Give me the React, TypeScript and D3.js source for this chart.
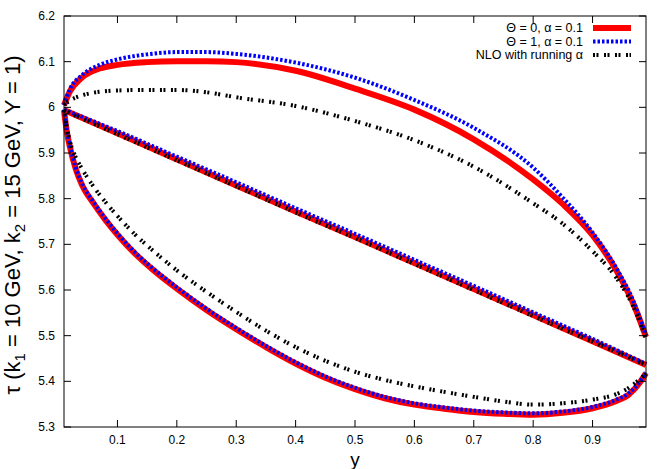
import * as d3 from "d3";

const WIDTH = 670;
const HEIGHT = 469;
const PLOT = { left: 64, right: 646, top: 16, bottom: 427 };

// x ticks and y ticks as printed on the axes
const xTicks = [0.1, 0.2, 0.3, 0.4, 0.5, 0.6, 0.7, 0.8, 0.9];
const yTicks = [5.3, 5.4, 5.5, 5.6, 5.7, 5.8, 5.9, 6.0, 6.1, 6.2];

// upper arcs (shared x grid)
const upperX = [0.01, 0.02, 0.04, 0.07, 0.1, 0.15, 0.2, 0.25, 0.3, 0.4, 0.5, 0.6, 0.7, 0.8, 0.85, 0.9, 0.94, 0.97, 0.99];
const redUpper = [6.005, 6.035, 6.065, 6.085, 6.093, 6.099, 6.101, 6.101, 6.099, 6.08, 6.041, 5.995, 5.93, 5.842, 5.788, 5.72, 5.643, 5.566, 5.497];
const blueUpper = [6.005, 6.04, 6.07, 6.093, 6.105, 6.116, 6.121, 6.121, 6.117, 6.098, 6.065, 6.016, 5.955, 5.868, 5.802, 5.726, 5.648, 5.572, 5.5];
const blackUpper = [6.005, 6.015, 6.026, 6.034, 6.037, 6.038, 6.038, 6.033, 6.022, 6.003, 5.97, 5.928, 5.87, 5.79, 5.745, 5.685, 5.627, 5.56, 5.495];

// middle (nearly straight) branch
const midX = [0.01, 0.1, 0.2, 0.3, 0.4, 0.5, 0.6, 0.7, 0.8, 0.9, 0.99];
const redMid = [5.994, 5.943, 5.886, 5.829, 5.772, 5.716, 5.659, 5.602, 5.545, 5.488, 5.436];
const blueMid = [5.995, 5.948, 5.892, 5.836, 5.779, 5.723, 5.666, 5.609, 5.551, 5.493, 5.438];
const blackMid = [5.993, 5.941, 5.884, 5.827, 5.77, 5.714, 5.657, 5.6, 5.543, 5.487, 5.436];

// lower arcs
const lowerX = [0.01, 0.015, 0.02, 0.03, 0.04, 0.06, 0.08, 0.1, 0.13, 0.16, 0.2, 0.25, 0.3, 0.35, 0.4, 0.45, 0.5, 0.55, 0.6, 0.65, 0.7, 0.75, 0.8, 0.85, 0.9, 0.94, 0.96, 0.98, 0.99];
const redLower = [5.994, 5.945, 5.913, 5.864, 5.831, 5.789, 5.753, 5.721, 5.679, 5.644, 5.603, 5.556, 5.514, 5.475, 5.439, 5.408, 5.383, 5.363, 5.349, 5.34, 5.333, 5.329, 5.327, 5.331, 5.341, 5.357, 5.37, 5.398, 5.418];
const blueLower = [5.995, 5.948, 5.916, 5.867, 5.834, 5.792, 5.756, 5.724, 5.682, 5.647, 5.606, 5.559, 5.517, 5.478, 5.442, 5.411, 5.386, 5.366, 5.352, 5.343, 5.336, 5.332, 5.33, 5.334, 5.344, 5.36, 5.373, 5.4, 5.419];
const blackLower = [5.994, 5.955, 5.925, 5.89, 5.866, 5.826, 5.792, 5.762, 5.721, 5.686, 5.643, 5.596, 5.552, 5.511, 5.475, 5.445, 5.421, 5.403, 5.389, 5.377, 5.366, 5.356, 5.349, 5.352, 5.36, 5.372, 5.385, 5.405, 5.416];

const series = [
  { label: "\u0398 = 0, \u03b1 = 0.1", color: "#ff0000", width: 6, dash: undefined, curves: [redUpper, redMid, redLower] },
  { label: "\u0398 = 1, \u03b1 = 0.1", color: "#0000ff", width: 4, dash: "2.5,2", curves: [blueUpper, blueMid, blueLower] },
  { label: "NLO with running \u03b1", color: "#000000", width: 4, dash: "2,1.5,2,5.5", curves: [blackUpper, blackMid, blackLower] },
];
const xGrids = [upperX, midX, lowerX];

const FONT = "'Liberation Sans', Arial, Helvetica, sans-serif";

export default function App() {
  const x = d3.scaleLinear().domain([0.01, 0.99]).range([PLOT.left, PLOT.right]);
  const y = d3.scaleLinear().domain([5.3, 6.2]).range([PLOT.bottom, PLOT.top]);
  const line = d3
    .line<[number, number]>()
    .x((d) => x(d[0]))
    .y((d) => y(d[1]))
    .curve(d3.curveMonotoneX);

  const tickLen = 7;

  return (
    <div style={{ position: "absolute", left: 0, top: 0 }}>
      <svg width={WIDTH} height={HEIGHT} style={{ display: "block", background: "#fff" }} fontFamily={FONT}>
        {/* curves */}
        {series.map((s) =>
          s.curves.map((vals, ci) => (
            <path
              key={s.label + ci}
              d={line(xGrids[ci].map((xv, i) => [xv, vals[i]] as [number, number])) || ""}
              fill="none"
              stroke={s.color}
              strokeWidth={s.width}
              strokeDasharray={s.dash}
              strokeLinejoin="round"
            />
          ))
        )}

        {/* frame */}
        <rect
          x={PLOT.left}
          y={PLOT.top}
          width={PLOT.right - PLOT.left}
          height={PLOT.bottom - PLOT.top}
          fill="none"
          stroke="#000"
          strokeWidth={1}
        />

        {/* y ticks */}
        {yTicks.map((t) => (
          <g key={t}>
            <line x1={PLOT.left} x2={PLOT.left + tickLen} y1={y(t)} y2={y(t)} stroke="#000" />
            <line x1={PLOT.right} x2={PLOT.right - tickLen} y1={y(t)} y2={y(t)} stroke="#000" />
            <text x={PLOT.left - 9} y={y(t)} textAnchor="end" dominantBaseline="central" fontSize={12}>
              {d3.format("~g")(t)}
            </text>
          </g>
        ))}

        {/* x ticks */}
        {xTicks.map((t) => (
          <g key={t}>
            <line x1={x(t)} x2={x(t)} y1={PLOT.bottom} y2={PLOT.bottom - tickLen} stroke="#000" />
            <line x1={x(t)} x2={x(t)} y1={PLOT.top} y2={PLOT.top + tickLen} stroke="#000" />
            <text x={x(t)} y={PLOT.bottom + 13} textAnchor="middle" dominantBaseline="central" fontSize={12}>
              {t}
            </text>
          </g>
        ))}

        {/* axis labels */}
        <text x={(PLOT.left + PLOT.right) / 2} y={466} textAnchor="middle" fontSize={19}>
          y
        </text>
        <text transform="translate(20,225) rotate(-90)" textAnchor="middle" fontSize={22}>
          {"\u03c4 (k"}
          <tspan fontSize={15} dy={5}>1</tspan>
          <tspan dy={-5}>{" = 10 GeV, k"}</tspan>
          <tspan fontSize={15} dy={5}>2</tspan>
          <tspan dy={-5}>{" = 15 GeV, Y = 1)"}</tspan>
        </text>

        {/* legend */}
        {series.map((s, i) => {
          const ly = 28 + i * 13.5;
          return (
            <g key={s.label}>
              <text x={583} y={ly} textAnchor="end" dominantBaseline="central" fontSize={12.5}>
                {s.label}
              </text>
              <line x1={593} x2={631} y1={ly} y2={ly} stroke={s.color} strokeWidth={s.width} strokeDasharray={s.dash} />
            </g>
          );
        })}
      </svg>
    </div>
  );
}
